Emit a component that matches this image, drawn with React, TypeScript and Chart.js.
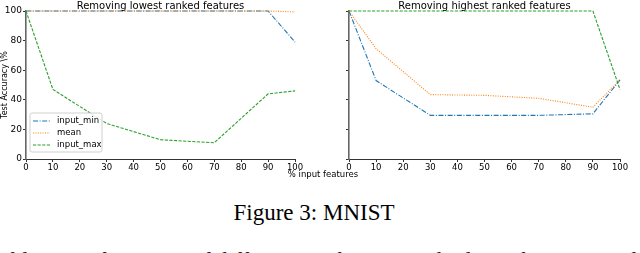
import React, { useEffect, useRef } from 'react';
import { Chart, registerables } from 'chart.js';

Chart.register(...registerables);

const xValues = [0, 10, 30, 50, 70, 90, 100];
const seriesNames = ['input_min', 'mean', 'input_max'];
const lowestInputMin = [100, 100, 100, 100, 100, 100, 79];
const lowestMean = [100, 100, 100, 100, 100, 100, 99.4];
const lowestInputMax = [100, 47, 24, 13, 11, 44, 46];
const highestInputMin = [100, 53, 29.5, 29.5, 29.5, 30.5, 53.5];
const highestMean = [100, 74.5, 43.5, 43, 41, 35, 53.5];
const highestInputMax = [100, 100, 100, 100, 100, 100, 47];
const xTickValues = [0, 10, 20, 30, 40, 50, 60, 70, 80, 90, 100];
const yTickValues = [0, 20, 40, 60, 80, 100];

const colors = ['#1f77b4', '#ff7f0e', '#2ca02c'];
const dashes = [[5, 1.6, 1, 1.6], [1, 1.4], [3.2, 1.4]];
const FONT = 'DejaVu Sans';

function makeDatasets(series: number[][]) {
  return series.map((vals, i) => ({
    label: seriesNames[i],
    data: xValues.map((x, j) => ({ x, y: vals[j] })),
    borderColor: colors[i],
    backgroundColor: colors[i],
    borderDash: dashes[i],
    borderWidth: 1.1,
    pointRadius: 0,
    tension: 0,
    fill: false,
    clip: 3,
    order: 3 - i,
  }));
}

const legendPlugin = {
  id: 'innerLegend',
  afterDraw(chart: any) {
    const opts = chart.options.plugins.innerLegend;
    if (!opts || !opts.show) return;
    const ctx = chart.ctx;
    const a = chart.chartArea;
    const x0 = a.left + 4;
    const w = 72;
    const h = 39;
    const y0 = a.bottom - 7 - h;
    ctx.save();
    ctx.beginPath();
    const r = 2;
    ctx.moveTo(x0 + r, y0);
    ctx.lineTo(x0 + w - r, y0);
    ctx.quadraticCurveTo(x0 + w, y0, x0 + w, y0 + r);
    ctx.lineTo(x0 + w, y0 + h - r);
    ctx.quadraticCurveTo(x0 + w, y0 + h, x0 + w - r, y0 + h);
    ctx.lineTo(x0 + r, y0 + h);
    ctx.quadraticCurveTo(x0, y0 + h, x0, y0 + h - r);
    ctx.lineTo(x0, y0 + r);
    ctx.quadraticCurveTo(x0, y0, x0 + r, y0);
    ctx.closePath();
    ctx.fillStyle = 'rgba(255,255,255,0.85)';
    ctx.fill();
    ctx.strokeStyle = '#d0d0d0';
    ctx.lineWidth = 1;
    ctx.stroke();
    chart.data.datasets.forEach((ds: any, i: number) => {
      const y = y0 + 8 + i * 12;
      ctx.beginPath();
      ctx.setLineDash(ds.borderDash);
      ctx.strokeStyle = ds.borderColor;
      ctx.lineWidth = 1.1;
      ctx.moveTo(x0 + 3, y);
      ctx.lineTo(x0 + 20, y);
      ctx.stroke();
      ctx.setLineDash([]);
      ctx.fillStyle = '#000';
      ctx.font = `8.5px "${FONT}"`;
      ctx.textBaseline = 'middle';
      ctx.textAlign = 'left';
      ctx.fillText(ds.label, x0 + 27, y);
    });
    ctx.restore();
  },
};

function makeConfig(series: number[][], showYLabels: boolean, padRight: number, yWidth: number) {
  const tickFont = { family: FONT, size: 8.5 };
  return {
    type: 'line' as const,
    data: { datasets: makeDatasets(series) },
    plugins: [legendPlugin],
    options: {
      animation: false,
      responsive: false,
      maintainAspectRatio: false,
      layout: { padding: { left: 0, right: padRight, top: 11, bottom: 0 } },
      plugins: {
        legend: { display: false },
        tooltip: { enabled: false },
        title: { display: false },
        innerLegend: { show: showYLabels },
      },
      scales: {
        x: {
          type: 'linear',
          min: 0,
          max: 100,
          afterBuildTicks: (s: any) => {
            s.ticks = xTickValues.map((v) => ({ value: v }));
          },
          ticks: { font: tickFont, color: '#000', padding: 1, maxRotation: 0, autoSkip: false },
          grid: { display: true, drawOnChartArea: false, drawTicks: true, tickLength: 3, tickColor: '#333', color: '#333' },
          border: { display: true, color: '#333', width: 1 },
          afterFit: (s: any) => {
            s.height = 21;
          },
        },
        y: {
          type: 'linear',
          min: 0,
          max: 100,
          afterBuildTicks: (s: any) => {
            s.ticks = yTickValues.map((v) => ({ value: v }));
          },
          ticks: { display: showYLabels, font: { family: FONT, size: 9 }, color: '#000', padding: 1 },
          grid: { display: true, drawOnChartArea: false, drawTicks: true, tickLength: 3, tickColor: '#333', color: '#333' },
          border: { display: true, color: '#666', width: 1.6 },
          title: {
            display: showYLabels,
            text: 'Test Accuracy \\%',
            font: { family: FONT, size: 8 },
            color: '#000',
            padding: 0,
          },
          afterFit: (s: any) => {
            s.width = yWidth;
          },
        },
      },
    },
  };
}

function Panel({ series, showY, padRight, yWidth }: { series: number[][]; showY: boolean; padRight: number; yWidth: number }) {
  const ref = useRef<HTMLCanvasElement>(null);
  useEffect(() => {
    if (!ref.current) return;
    const chart = new Chart(ref.current, makeConfig(series, showY, padRight, yWidth) as any);
    return () => chart.destroy();
  }, []);
  return <canvas ref={ref} width={320} height={180} style={{ width: 320, height: 180, display: 'block' }} />;
}

const textBase: React.CSSProperties = {
  position: 'absolute',
  whiteSpace: 'nowrap',
  color: '#000',
};

export default function App() {
  return (
    <div style={{ position: 'absolute', left: 0, top: 0, width: 640, height: 253, overflow: 'hidden', background: '#fff' }}>
      <div style={{ position: 'absolute', left: 0, top: 0 }}>
        <Panel series={[lowestInputMin, lowestMean, lowestInputMax]} showY={true} padRight={25} yWidth={26} />
      </div>
      <div style={{ position: 'absolute', left: 320, top: 0 }}>
        <Panel series={[highestInputMin, highestMean, highestInputMax]} showY={false} padRight={20} yWidth={29} />
      </div>
      <div style={{ ...textBase, left: 26, width: 269, top: 0, textAlign: 'center', font: `10px "${FONT}"`, lineHeight: '12px' }}>
        Removing lowest ranked features
      </div>
      <div style={{ ...textBase, left: 349, width: 271, top: 0, textAlign: 'center', font: `10px "${FONT}"`, lineHeight: '12px' }}>
        Removing highest ranked features
      </div>
      <div style={{ ...textBase, left: 223, width: 200, top: 169, textAlign: 'center', font: `8.5px "${FONT}"`, lineHeight: '10px' }}>
        % input features
      </div>
      <div style={{ ...textBase, left: 114, width: 400, top: 200, textAlign: 'center', font: `23px "Liberation Serif"`, lineHeight: '26px' }}>
        Figure 3: MNIST
      </div>
      <div style={{ ...textBase, left: -12, top: 248, font: `23px "Liberation Serif"`, lineHeight: '26px', color: '#222' }}>
        Table 1: Performance of different attribution methods on the MNIST dataset with different ranking strategies
      </div>
    </div>
  );
}
